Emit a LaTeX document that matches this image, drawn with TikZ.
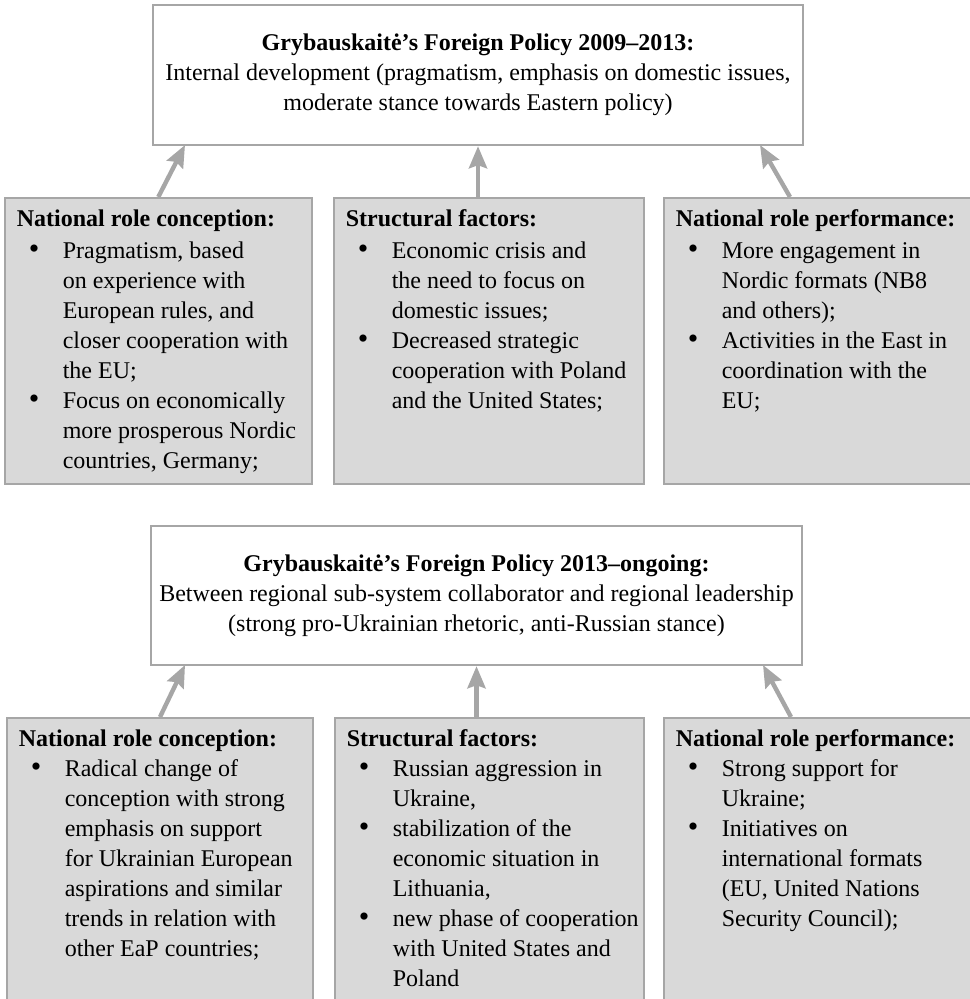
\documentclass[tikz,border=0pt]{standalone}
\usepackage{fontspec}
\setmainfont{Liberation Serif}
\usetikzlibrary{arrows.meta}

\definecolor{cardfill}{HTML}{D9D9D9}
\definecolor{cardline}{HTML}{A6A6A6}

\newcommand{\bul}{\makebox[23pt][l]{\hspace{6pt}{\fontsize{15}{15}\selectfont\textbullet}}}
\newcommand{\ind}{\hspace*{23pt}}
\newcommand{\rolebox}[3]{\parbox[t][#2][t]{#1}{\raggedright #3}}

\begin{document}
\begin{tikzpicture}[x=0.5pt, y=-0.5pt,
    policy/.style={draw=cardline, line width=1.2pt, fill=white, align=center,
        inner sep=0pt, font=\fontsize{12}{15}\selectfont},
    card/.style={draw=cardline, line width=0.8pt, fill=cardfill, anchor=north west,
        inner xsep=6pt, inner ysep=6pt, font=\fontsize{12}{15}\selectfont},
    push/.style={draw=cardline, line width=2.2pt,
        -{Stealth[length=11pt, width=9pt, inset=1.5pt]}}]
    \useasboundingbox (0, 0) rectangle (969, 999);
    %\draw[lightgray] (0, 0) grid[step=50] (969, 999);

    % 2009--2013
    \node[policy, minimum width=325pt, minimum height=70pt] (fp1) at (478, 75)
        {\textbf{Grybauskaitė’s Foreign Policy 2009–2013:}\\
        Internal development (pragmatism, emphasis on domestic issues,\\
        moderate stance towards Eastern policy)};
    \node[card] (nrc1) at (4, 197) {\rolebox{141.5pt}{131pt}{%
        \textbf{National role conception:}\\[1pt]
        \bul Pragmatism, based\\
        \ind on experience with\\
        \ind European rules, and\\
        \ind closer cooperation with\\
        \ind the EU;\\
        \bul Focus on economically\\
        \ind more prosperous Nordic\\
        \ind countries, Germany;}};
    \node[card] (sf1) at (333, 197) {\rolebox{143pt}{131pt}{%
        \textbf{Structural factors:}\\[1pt]
        \bul Economic crisis and\\
        \ind the need to focus on\\
        \ind domestic issues;\\
        \bul Decreased strategic\\
        \ind cooperation with Poland\\
        \ind and the United States;}};
    \node[card] (nrp1) at (663, 197) {\rolebox{143pt}{131pt}{%
        \textbf{National role performance:}\\[1pt]
        \bul More engagement in\\
        \ind Nordic formats (NB8\\
        \ind and others);\\
        \bul Activities in the East in\\
        \ind coordination with the\\
        \ind EU;}};
    \coordinate (tip1) at (185, 145);
    \coordinate (tip3) at (760, 145);
    \coordinate (base3) at (790, 197);
    \draw[push] (nrc1.north) -- (tip1);
    \draw[push] (fp1.south |- sf1.north) -- (fp1.south);
    \draw[push] (base3) -- (tip3);

    % 2013--ongoing
    \node[policy, minimum width=325.5pt, minimum height=69.5pt] (fp2) at (476.5, 595.5)
        {\textbf{Grybauskaitė’s Foreign Policy 2013–ongoing:}\\
        Between regional sub-system collaborator and regional leadership\\
        (strong pro-Ukrainian rhetoric, anti-Russian stance)};
    \node[card] (nrc2) at (6, 717) {\rolebox{141pt}{136pt}{%
        \textbf{National role conception:}\\
        \bul Radical change of\\
        \ind conception with strong\\
        \ind emphasis on support\\
        \ind for Ukrainian European\\
        \ind aspirations and similar\\
        \ind trends in relation with\\
        \ind other EaP countries;}};
    \node[card] (sf2) at (334, 717) {\rolebox{142.5pt}{136pt}{%
        \textbf{Structural factors:}\\
        \bul Russian aggression in\\
        \ind Ukraine,\\
        \bul stabilization of the\\
        \ind economic situation in\\
        \ind Lithuania,\\
        \bul \mbox{new phase of cooperation}\\
        \ind with United States and\\
        \ind Poland}};
    \node[card] (nrp2) at (663, 717) {\rolebox{143pt}{136pt}{%
        \textbf{National role performance:}\\
        \bul Strong support for\\
        \ind Ukraine;\\
        \bul Initiatives on\\
        \ind international formats\\
        \ind (EU, United Nations\\
        \ind Security Council);}};
    \coordinate (tip4) at (185, 665);
    \coordinate (base4) at (160, 717);
    \coordinate (tip6) at (763, 665);
    \coordinate (base6) at (791, 717);
    \draw[push] (base4) -- (tip4);
    \draw[push] (fp2.south |- sf2.north) -- (fp2.south);
    \draw[push] (base6) -- (tip6);
\end{tikzpicture}
\end{document}
